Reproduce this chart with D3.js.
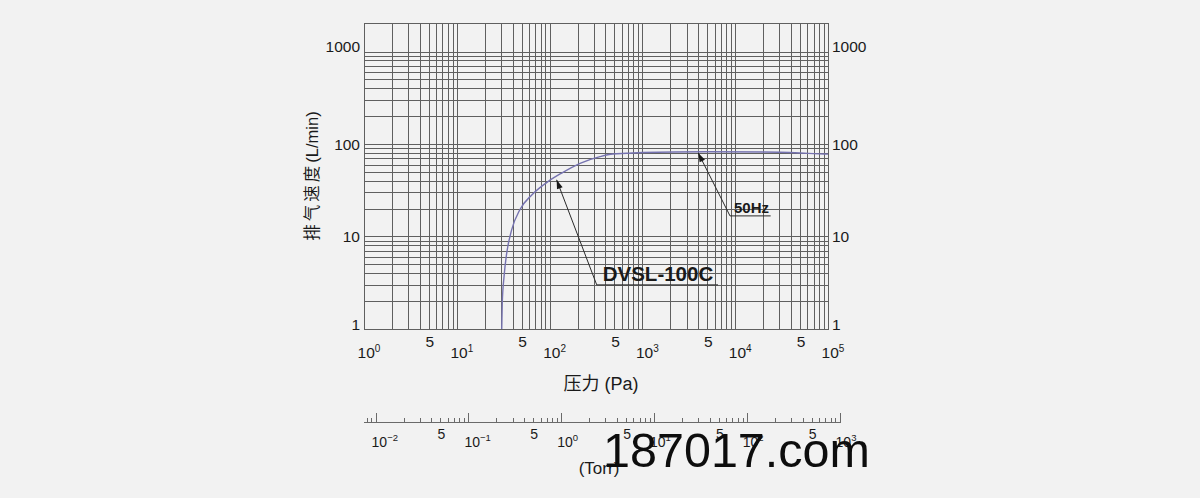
<!DOCTYPE html>
<html>
<head>
<meta charset="utf-8">
<script src="https://cdn.jsdelivr.net/npm/d3@7"></script>
<style>
  html, body { margin: 0; padding: 0; background: #f2f2f2; }
  svg { display: block; }
  text { font-family: "Liberation Sans", Arial, "Noto Sans CJK SC", sans-serif; fill: #1a1a1a; }
  .cjk { font-family: "Noto Sans CJK SC", "Liberation Sans", sans-serif; }
</style>
</head>
<body>
<svg id="chart" width="1200" height="498"></svg>
<script>
// ---- data ----
const pressurePa = [30.5, 30.9, 32.3, 34.5, 39, 48, 65, 97, 135, 213, 349, 482, 677, 1000, 5000, 20000, 50000, 80000, 100000];
const pumpSpeed  = [1, 1.9, 3.7, 6.6, 11.8, 19.6, 28.5, 39.5, 48.5, 61.8, 73, 78, 79.3, 81, 82.5, 82, 80, 78.3, 77.7];
const seriesName = "DVSL-100C";
const freqLabel = "50Hz";
const yTickValues = [1, 10, 100, 1000];
const xDecadeExps = [0, 1, 2, 3, 4, 5];
const xFiveValues = [5, 50, 500, 5000, 50000];
const torrDecadeExps = [-2, -1, 0, 1, 2, 3];
const torrFiveValues = [0.05, 0.5, 5, 50, 500];
const PA_PER_TORR = 133.322;
// annotation anchors (data units: [Pa, L/min])
const seriesArrow = [[119, 41], [322, 3.0], [6530, 3.0]];
const freqArrow = [[4000, 80], [8790, 16.7], [24100, 16.7]];

const svg = d3.select("#chart");
const x = d3.scaleLog().domain([1, 1e5]).range([364, 828]);
const y = d3.scaleLog().domain([1, 1000]).range([329, 51.5]);
const plotTop = 23;
const gridColor = "#606060";

// grid values
const vGrid = [];
for (let e = 0; e < 5; e++) for (let k = 1; k <= 9; k++) vGrid.push(k * Math.pow(10, e));
vGrid.push(1e5);
const hGrid = [];
for (let e = 0; e < 3; e++) for (let k = 1; k <= 9; k++) hGrid.push(k * Math.pow(10, e));
hGrid.push(1000);

const grid = svg.append("g").attr("shape-rendering", "crispEdges");
grid.selectAll("line.v").data(vGrid).join("line")
  .attr("x1", d => Math.round(x(d)) + 0.5).attr("x2", d => Math.round(x(d)) + 0.5)
  .attr("y1", plotTop).attr("y2", y(1))
  .attr("stroke", gridColor).attr("stroke-width", 1);
grid.selectAll("line.h").data(hGrid).join("line")
  .attr("x1", x(1)).attr("x2", x(1e5))
  .attr("y1", d => Math.round(y(d)) + 0.5).attr("y2", d => Math.round(y(d)) + 0.5)
  .attr("stroke", gridColor).attr("stroke-width", 1);
grid.append("rect")
  .attr("x", x(1) + 0.5).attr("y", plotTop + 0.5)
  .attr("width", x(1e5) - x(1)).attr("height", y(1) - plotTop)
  .attr("fill", "none").attr("stroke", gridColor);

// curve
const pts = pressurePa.map((p, i) => [p, pumpSpeed[i]]);
svg.append("path")
  .datum(pts)
  .attr("d", d3.line().x(d => x(d[0])).y(d => y(d[1])).curve(d3.curveMonotoneX))
  .attr("fill", "none").attr("stroke", "#7673b0").attr("stroke-width", 1.4);

// y labels
const yOff = {1: 1, 10: 5, 100: 6, 1000: 0};
svg.selectAll("text.yl").data(yTickValues).join("text")
  .attr("x", 360).attr("y", d => y(d) + yOff[d])
  .attr("text-anchor", "end").attr("font-size", 15.5)
  .text(d => d);
svg.selectAll("text.yr").data(yTickValues).join("text")
  .attr("x", 832).attr("y", d => y(d) + yOff[d])
  .attr("text-anchor", "start").attr("font-size", 15.5)
  .text(d => d);

// x labels: decades
const xl = svg.selectAll("text.xd").data(xDecadeExps).join("text")
  .attr("x", d => x(Math.pow(10, d)) + 5).attr("y", 358)
  .attr("text-anchor", "middle").attr("font-size", 15.5);
xl.append("tspan").text("10");
xl.append("tspan").attr("font-size", 10).attr("dy", -6).text(d => d);
svg.selectAll("text.x5").data(xFiveValues).join("text")
  .attr("x", d => x(d) + 1).attr("y", 347)
  .attr("text-anchor", "middle").attr("font-size", 15.5)
  .text("5");

// axis titles
svg.append("text")
  .attr("transform", "translate(318,176) rotate(-90)")
  .attr("text-anchor", "middle").attr("font-size", 16.5)
  .call(t => {
    t.append("tspan").attr("class", "cjk").attr("letter-spacing", 3).text("排气速度");
    t.append("tspan").text("(L/min)");
  });
svg.append("text")
  .attr("x", 601).attr("y", 390)
  .attr("text-anchor", "middle").attr("font-size", 18)
  .call(t => {
    t.append("tspan").attr("class", "cjk").text("压力");
    t.append("tspan").text("  (Pa)");
  });

// annotations
const ann = svg.append("g");
function arrowAnn(ptsA, label, fs, dx, dy) {
  const P = ptsA.map(d => [x(d[0]), y(d[1])]);
  ann.append("path")
    .attr("d", d3.line()(P))
    .attr("fill", "none").attr("stroke", "#2a2a2a").attr("stroke-width", 1);
  const ang = Math.atan2(P[0][1] - P[1][1], P[0][0] - P[1][0]);
  const L = 9, W = 3;
  const bx = P[0][0] - L * Math.cos(ang), by = P[0][1] - L * Math.sin(ang);
  const px = -Math.sin(ang) * W, py = Math.cos(ang) * W;
  ann.append("path")
    .attr("d", `M${P[0][0]},${P[0][1]}L${bx + px},${by + py}L${bx - px},${by - py}Z`)
    .attr("fill", "#1a1a1a");
  ann.append("text")
    .attr("x", P[1][0] + dx).attr("y", P[1][1] + dy)
    .attr("font-size", fs).attr("font-weight", "bold")
    .text(label);
}
arrowAnn(seriesArrow, seriesName, 20.5, 6, -4);
arrowAnn(freqArrow, freqLabel, 15, 4, -3);

// Torr axis
const axY = 422.5;
const torrMin = 1 / PA_PER_TORR, torrMax = 1000;
const tx = t => x(t * PA_PER_TORR);
const torrMinor = [];
for (let e = -3; e <= 2; e++) for (let k = 2; k <= 9; k++) {
  const v = k * Math.pow(10, e);
  if (v >= torrMin && v < torrMax) torrMinor.push(v);
}
const tg = svg.append("g").attr("shape-rendering", "crispEdges");
tg.append("line").attr("x1", tx(torrMin)).attr("x2", tx(torrMax)).attr("y1", axY).attr("y2", axY)
  .attr("stroke", "#6a6a6a");
tg.selectAll("line.mi").data(torrMinor).join("line")
  .attr("x1", d => Math.round(tx(d)) + 0.5).attr("x2", d => Math.round(tx(d)) + 0.5)
  .attr("y1", axY).attr("y2", axY - 5).attr("stroke", "#6a6a6a");
tg.selectAll("line.ma").data(torrDecadeExps).join("line")
  .attr("x1", d => Math.round(tx(Math.pow(10, d))) + 0.5).attr("x2", d => Math.round(tx(Math.pow(10, d))) + 0.5)
  .attr("y1", axY).attr("y2", axY - 10).attr("stroke", "#6a6a6a");

const tl = svg.selectAll("text.td").data(torrDecadeExps).join("text")
  .attr("x", d => tx(Math.pow(10, d)) - 4).attr("y", 447)
  .attr("text-anchor", "start").attr("font-size", 14);
tl.append("tspan").text("10");
tl.append("tspan").attr("font-size", 9.5).attr("dy", -6).text(d => d < 0 ? "\u2212" + (-d) : d);
svg.selectAll("text.t5").data(torrFiveValues).join("text")
  .attr("x", d => tx(d) + 1).attr("y", 439)
  .attr("text-anchor", "middle").attr("font-size", 14)
  .text("5");
svg.append("text").attr("x", 599).attr("y", 474)
  .attr("text-anchor", "middle").attr("font-size", 17).text("(Torr)");

// watermark
svg.append("text").attr("x", 603).attr("y", 467)
  .attr("font-size", 48.5).style("fill", "#0d0d0d").text("187017.com");
</script>
</body>
</html>
